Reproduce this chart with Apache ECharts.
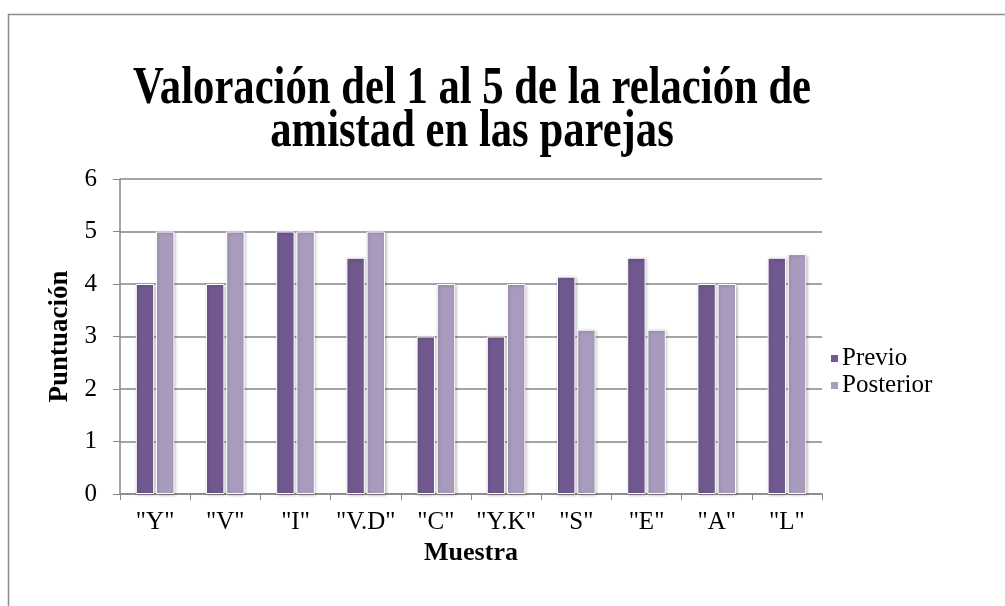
<!DOCTYPE html>
<html>
<head>
<meta charset="utf-8">
<script src="https://cdn.jsdelivr.net/npm/echarts@6/dist/echarts.min.js"></script>
<style>
html,body{margin:0;padding:0;background:#fff;}
#chart{width:1005px;height:606px;}
</style>
</head>
<body>
<div id="chart"></div>
<script>
const titleText = 'Valoración del 1 al 5 de la relación de\namistad en las parejas';
const categories = ['"Y"', '"V"', '"I"', '"V.D"', '"C"', '"Y.K"', '"S"', '"E"', '"A"', '"L"'];
const previo = [4, 4, 5, 4.5, 3, 3, 4.14, 4.5, 4, 4.5];
const posterior = [5, 5, 5, 5, 4, 4, 3.13, 3.13, 4, 4.57];
const yTicks = { min: 0, max: 6, interval: 1 };

const FONT = '"Liberation Serif", "Times New Roman", serif';
const chart = echarts.init(document.getElementById('chart'), null, { renderer: 'canvas' });
const barStyle = (c) => ({
  color: c, borderColor: '#ffffff', borderWidth: 1,
  shadowColor: 'rgba(0,0,0,0.25)', shadowBlur: 3, shadowOffsetX: 1, shadowOffsetY: 1
});
chart.setOption({
  animation: false,
  backgroundColor: '#ffffff',
  graphic: [{
    type: 'rect', silent: true, z: -1,
    shape: { x: 8.5, y: 14.5, width: 1010, height: 620 },
    style: { fill: 'none', stroke: '#8c8c8c', lineWidth: 1.5 }
  }, {
    type: 'text', silent: true, x: 472, y: 68, scaleX: 0.97, scaleY: 1.2,
    style: {
      text: titleText, align: 'center', verticalAlign: 'top',
      fontFamily: FONT, fontWeight: 'bold', fontSize: 44, lineHeight: 36, fill: '#000'
    }
  }],
  legend: {
    orient: 'vertical', left: 829, top: 346, padding: 0, itemWidth: 9, itemHeight: 9, itemGap: 2,
    icon: 'rect',
    textStyle: { fontFamily: FONT, fontSize: 25, color: '#000', padding: [0, 0, 0, -2] },
    data: ['Previo', 'Posterior']
  },
  grid: { left: 120, right: 183, top: 179, bottom: 112, containLabel: false },
  xAxis: {
    type: 'category', data: categories,
    name: 'Muestra', nameLocation: 'middle', nameGap: 36,
    nameTextStyle: { fontFamily: FONT, fontWeight: 'bold', fontSize: 26, color: '#000' },
    axisLine: { lineStyle: { color: '#868686', width: 1.5 } },
    axisTick: { show: true, length: 6, lineStyle: { color: '#868686' } },
    axisLabel: { interval: 0, fontFamily: FONT, fontSize: 25, color: '#000', margin: 16 }
  },
  yAxis: {
    type: 'value', min: yTicks.min, max: yTicks.max, interval: yTicks.interval,
    name: 'Puntuación', nameLocation: 'middle', nameGap: 44, nameRotate: 90,
    nameTextStyle: { fontFamily: FONT, fontWeight: 'bold', fontSize: 27, color: '#000' },
    axisLine: { show: true, lineStyle: { color: '#868686', width: 1.5 } },
    axisTick: { show: true, length: 7, lineStyle: { color: '#868686' } },
    axisLabel: { fontFamily: FONT, fontSize: 25, color: '#000', margin: 23 },
    splitLine: { lineStyle: { color: '#868686', width: 1.5 } }
  },
  series: [
    { name: 'Previo', type: 'bar', data: previo, barGap: '10%', barCategoryGap: '45%',
      itemStyle: barStyle('#71588F') },
    { name: 'Posterior', type: 'bar', data: posterior, barGap: '10%', barCategoryGap: '45%',
      itemStyle: barStyle('#A99BBD') }
  ]
});
</script>
</body>
</html>
